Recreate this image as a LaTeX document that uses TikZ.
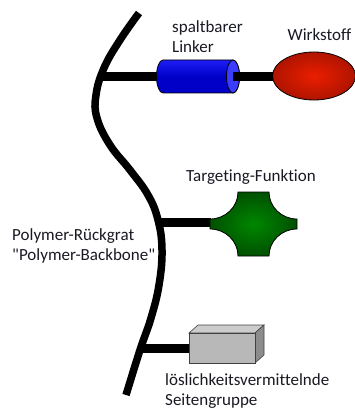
\documentclass[tikz,border=0pt]{standalone}
\usepackage{fontspec}
\setmainfont{Carlito}[Ligatures={TeXOff,NoCommon}]
\usetikzlibrary{calc}
\definecolor{txt}{RGB}{25,25,35}
\definecolor{blueA}{RGB}{30,30,245}
\definecolor{blueB}{RGB}{0,0,200}
\definecolor{blueCap}{RGB}{60,60,255}
\definecolor{redIn}{RGB}{235,30,0}
\definecolor{redOut}{RGB}{175,20,0}
\definecolor{greenIn}{RGB}{0,135,0}
\definecolor{greenOut}{RGB}{0,80,0}
\tikzset{
  label/.style={font=\fontsize{17}{20}\selectfont, text=txt, inner sep=0pt, anchor=base west},
  backbone/.style={line width=7.5pt, line cap=butt},
  branch/.style={line width=9pt},
  outline/.style={draw=black, line width=0.8pt},
}
\begin{document}
\begin{tikzpicture}[x=1pt,y=-1pt]
\useasboundingbox (0,0) rectangle (355,409);

% polymer backbone
\draw[backbone] plot[smooth, tension=0.7] coordinates {
  (139,13) (120,40) (104,68) (96,95) (97,118) (110,145) (130,170)
  (148,195) (158,220) (162,250) (159,285) (151,318) (140,350) (126,395)};

% attachment points on the backbone and on the side groups
\coordinate (b1) at (100,77);
\coordinate (b2) at (158,222);
\coordinate (b3) at (141,348);
\coordinate (linkL) at (163,77);
\coordinate (linkR) at (233,77);
\coordinate (drug) at (273,77);
\coordinate (target) at (211,222);
\coordinate (sol) at (189,348);

% side chains
\draw[branch] (b1) -- (linkL);
\draw[branch] (linkR) -- (drug);
\draw[branch] (b2) -- (target);
\draw[branch] (b3) -- (sol);

% cleavable linker (cylinder)
\path[outline, top color=blueA, bottom color=blueB, middle color=blueB]
  (163,60) -- (233,60) arc[start angle=-90, end angle=90, x radius=6.5, y radius=16.5]
  -- (163,93) arc[start angle=90, end angle=270, x radius=6.5, y radius=16.5] -- cycle;
\draw[outline, fill=blueCap] (233,76.5) ellipse[x radius=6.5, y radius=16.5];
\draw[branch] (233,77) -- (241,77);

% active agent
\draw[outline, inner color=redIn, outer color=redOut] (314,76) ellipse[x radius=41.5, y radius=24];

% targeting function
\draw[outline, inner color=greenIn, outer color=greenOut]
  (238,192) -- (269,192)
  arc[start angle=180, end angle=90, x radius=28, y radius=27] -- (297,229)
  arc[start angle=-90, end angle=-180, x radius=28, y radius=27] -- (238,256)
  arc[start angle=0, end angle=-90, x radius=28, y radius=27] -- (210,219)
  arc[start angle=90, end angle=0, x radius=28, y radius=27] -- cycle;

% solubilising side group (box)
\draw[draw=black!75, line width=0.6pt, fill=black!20] (189,333) -- (198,325) -- (264,325) -- (255,333) -- cycle;
\draw[draw=black!75, line width=0.6pt, fill=black!45] (255,333) -- (264,325) -- (264,355) -- (255,363) -- cycle;
\draw[draw=black!75, line width=0.6pt, fill=black!28] (189,333) rectangle (255,363);

% labels
\node[label] (lLinkerA) at (172,33) {spaltbarer};
\node[label] (lLinkerB) at (172,53) {Linker};
\node[label, anchor=base] (lDrug) at (319.5,41) {Wirkstoff};
\node[label, anchor=base] (lTarget) at (251,181) {Targeting-Funktion};
\node[label] (lBackA) at (12,240) {Polymer-Rückgrat};
\node[label] (lBackB) at (12,260.5) {"Polymer-Backbone"};
\node[label] (lSolA) at (165,385) {löslichkeitsvermittelnde};
\node[label] (lSolB) at (165,405.5) {Seitengruppe};
\end{tikzpicture}
\end{document}
